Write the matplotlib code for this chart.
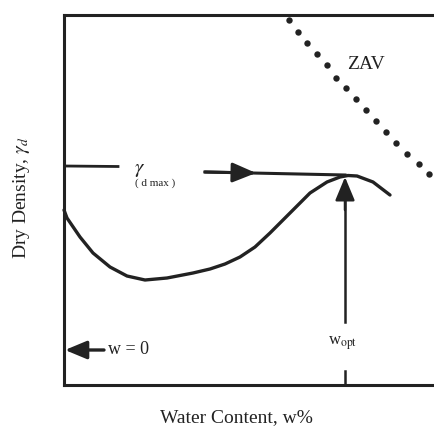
import numpy as np
import matplotlib
matplotlib.use("Agg")
from matplotlib import pyplot as plt

# compaction curve (schematic units, origin at axes corner)
curve_w = [0, 3, 16, 29, 46, 63, 81, 103, 129, 146, 161, 176, 191, 206, 226, 246, 263, 276, 284, 293, 309, 326]
curve_gd = [175, 167, 148, 132, 118, 109, 105, 107, 112, 116, 121, 128, 138, 152, 172, 192, 203, 208, 209.5, 209, 203, 190]

# zero air voids line, dots
zav_w = [225, 234, 243, 253, 263, 272, 282, 292, 302, 312, 322, 332, 343, 355, 365]
zav_gd = [365, 353, 342, 331, 320, 307, 297, 286, 275, 264, 253, 242, 231, 221, 211]

w_opt = 281
gd_max = 210

plt.rcParams['font.family'] = ['Liberation Serif', 'DejaVu Serif']
plt.rcParams['mathtext.fontset'] = 'stix'

fig = plt.figure(figsize=(4.34, 4.33), dpi=100)
ax = fig.add_axes([64 / 434, 1 - 385 / 433, 370 / 434, 370 / 433])
ax.set_xlim(0, 370)
ax.set_ylim(0, 370)
ax.set_xticks([])
ax.set_yticks([])
ax.spines['right'].set_visible(False)
for s in ['left', 'bottom', 'top']:
    ax.spines[s].set_linewidth(2.2)
    ax.spines[s].set_color('#222222')

ink = '#222222'
head = '-|>,head_length=0.6,head_width=0.25'

ax.plot(curve_w, curve_gd, color=ink, lw=2.4, solid_joinstyle='round',
        solid_capstyle='round', clip_on=False)

ax.plot(zav_w, zav_gd, 'o', color=ink, ms=4.6, mew=0, clip_on=False)
ax.text(283, 316, 'ZAV', fontsize=14, color=ink)

# max dry density arrow
ax.plot([0, 54], [219, 218.5], color=ink, lw=2.0)
ax.plot([141, w_opt], [213, gd_max], color=ink, lw=2.2)
ax.annotate('', xy=(192, 212), xytext=(141, 213),
            arrowprops=dict(arrowstyle=head, color=ink, lw=2.2, mutation_scale=24,
                            shrinkA=0, shrinkB=0))
ax.text(70, 212, r'$\gamma$', fontsize=15, color=ink)
ax.text(71, 207, '( d max )', fontsize=8, color=ink, va='top')

# optimum water content arrow
ax.plot([w_opt, w_opt], [63, 190], color=ink, lw=1.8)
ax.annotate('', xy=(w_opt, gd_max - 2), xytext=(w_opt, 175),
            arrowprops=dict(arrowstyle=head, color=ink, lw=1.8, mutation_scale=24,
                            shrinkA=0, shrinkB=0))
ax.plot([w_opt, w_opt], [0, 14], color=ink, lw=1.8)
ax.text(w_opt - 2, 40, r'w$_{\rm opt}$', fontsize=12, color=ink, ha='center')

# w = 0 arrow
ax.annotate('', xy=(1, 35), xytext=(40, 35),
            arrowprops=dict(arrowstyle=head, color=ink, lw=2.4, mutation_scale=22,
                            shrinkA=0, shrinkB=0))
ax.text(44, 35, 'w = 0', fontsize=13, color=ink, va='center')

fig.text(236 / 434, 1 - 418 / 433, 'Water Content, w%', fontsize=14, color=ink,
         ha='center', va='center')
fig.text(22 / 434, 1 - 198 / 433, r'Dry Density, $\gamma_d$', fontsize=14, color=ink,
         ha='center', va='center', rotation=90)

fig.savefig('out.png', dpi=100)
